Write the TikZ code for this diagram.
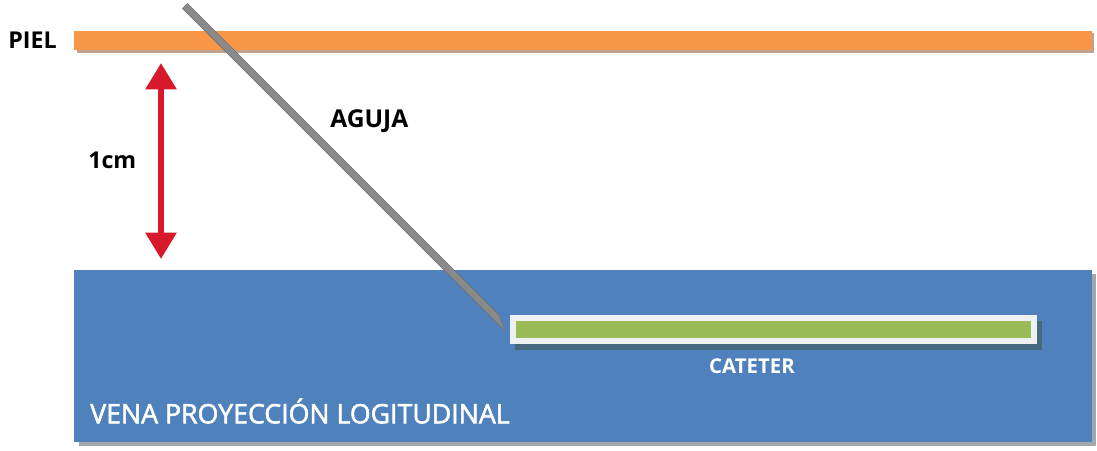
\documentclass[tikz,border=0pt]{standalone}
\usepackage{fontspec}
\setmainfont{Open Sans}
\newfontfamily\medium{Open Sans}[FakeBold=2]
\usetikzlibrary{positioning,arrows.meta}
\definecolor{skin}{HTML}{F79646}
\definecolor{skinshade}{HTML}{BFA38E}
\definecolor{vein}{HTML}{4F81BD}
\definecolor{veinshade}{HTML}{A3A6AD}
\definecolor{cathgreen}{HTML}{9BBB59}
\definecolor{cathrim}{HTML}{EEF1F1}
\definecolor{cathshade}{HTML}{46697F}
\definecolor{needle}{HTML}{8A8A8A}
\definecolor{needleedge}{HTML}{707070}
\definecolor{mark}{HTML}{D61A2C}
\tikzset{
  lbl/.style={font=\bfseries\fontsize{16.5}{18}\selectfont,text=black,inner sep=0pt,anchor=west},
  veinlbl/.style={font=\medium\fontsize{19}{22}\selectfont,text=white,inner sep=0pt,anchor=west},
  cathlbl/.style={font=\bfseries\fontsize{14.5}{16}\selectfont,text=white,inner sep=0pt},
  depth/.style={{Triangle[width=0.75cm,length=0.66cm]}-{Triangle[width=0.75cm,length=0.66cm]},draw=mark,line width=0.15cm}}

\begin{document}
\begin{tikzpicture}[x=0.025cm,y=-0.025cm]
  \useasboundingbox (0,0) rectangle (1097,450);
  \fill[veinshade] (79,274) rectangle (1096,446);
  \fill[vein] (74,270) rectangle (1092,442);
  \fill[cathshade] (515,321) rectangle (1042,350);
  \fill[cathrim] (510,315) rectangle (1037,344);
  \fill[cathgreen] (516,321) rectangle (1031,338);
  \fill[skinshade] (77,33) rectangle (1094,53);
  \fill[skin] (74,31) rectangle (1092,50);
  \filldraw[fill=needle,draw=needleedge,line width=0.3pt]
    (187.5,3.5) -- (499,315) -- (505,331) -- (182.5,8.5) -- cycle;
  \coordinate (top) at (161,63);
  \coordinate (bot) at (161,259);
  \draw[depth] (top) -- (bot);
  \node[lbl] (piel) at (8,40) {PIEL};
  \node[lbl] (cm) at (88,160) {1cm};
  \node[lbl,font=\bfseries\fontsize{17.5}{19}\selectfont] (aguja) at (330,121) {AGUJA};
  \node[cathlbl] (cateter) at (752,366) {CATETER};
  \node[veinlbl] (vena) at (90,411) {VENA PROYECCIÓN LOGITUDINAL};
\end{tikzpicture}
\end{document}
